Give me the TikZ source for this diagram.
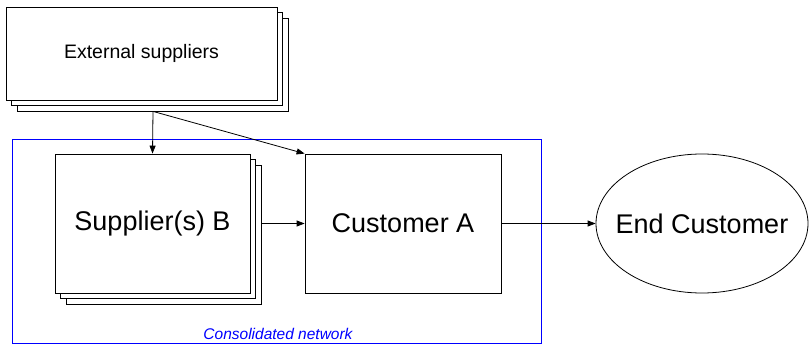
\documentclass[tikz,border=0pt]{standalone}
\usepackage{fontspec}
\setmainfont{Liberation Sans}
\usetikzlibrary{shadows}
\usetikzlibrary{shapes.geometric}
\usetikzlibrary{arrows.meta}
\usetikzlibrary{calc}

\tikzset{
  stackbox/.style={draw, fill=white, line width=.8pt, double copy shadow={shadow xshift=5.75pt, shadow yshift=-5.5pt, fill=white, draw=black, line width=.8pt}},
  plainbox/.style={draw, fill=white, line width=.8pt},
  netbox/.style={draw=blue, line width=.8pt},
  arr/.style={-{Triangle[length=8pt,width=6pt]}, line width=.8pt},
  bigtext/.style={font=\fontsize{27}{30}\selectfont},
}

\begin{document}
\begin{tikzpicture}[x=1pt, y=-1pt, inner sep=0pt]
            \useasboundingbox (0,0) rectangle (809,345);
            \node[netbox, minimum width=529, minimum height=204] (net) at (276.5,241) {};
            \node[text=blue, font=\fontsize{15.5}{17}\selectfont\itshape] (netlabel) at (278,334) {Consolidated network};
            \node[stackbox, minimum width=271, minimum height=93, font=\fontsize{19.5}{22}\selectfont] (ext) at (141.5,53.5) {External suppliers};
            \node[stackbox, bigtext, minimum width=195, minimum height=139] (supB) at (152.5,223.5) {Supplier(s) B};
            \node[plainbox, bigtext, minimum width=196, minimum height=139] (custA) at (403,223.5) {Customer A};
            \node[draw, ellipse, line width=.8pt, minimum width=212, minimum height=139] (endC) at (702,223.5) {};
            \node[bigtext] (endtext) at (endC.center) {End Customer};
            \coordinate (extout) at ($(ext.south)+(11.5,11)$);
            \coordinate (supout) at ($(supB.east)+(11.5,0)$);
            \draw[arr] (extout) -- (supB.north);
            \draw[arr] (extout) -- (custA.north west);
            \draw[arr] (supout) -- (custA.west);
            \draw[arr] (custA.east) -- (endC.west);
        \end{tikzpicture}
\end{document}
